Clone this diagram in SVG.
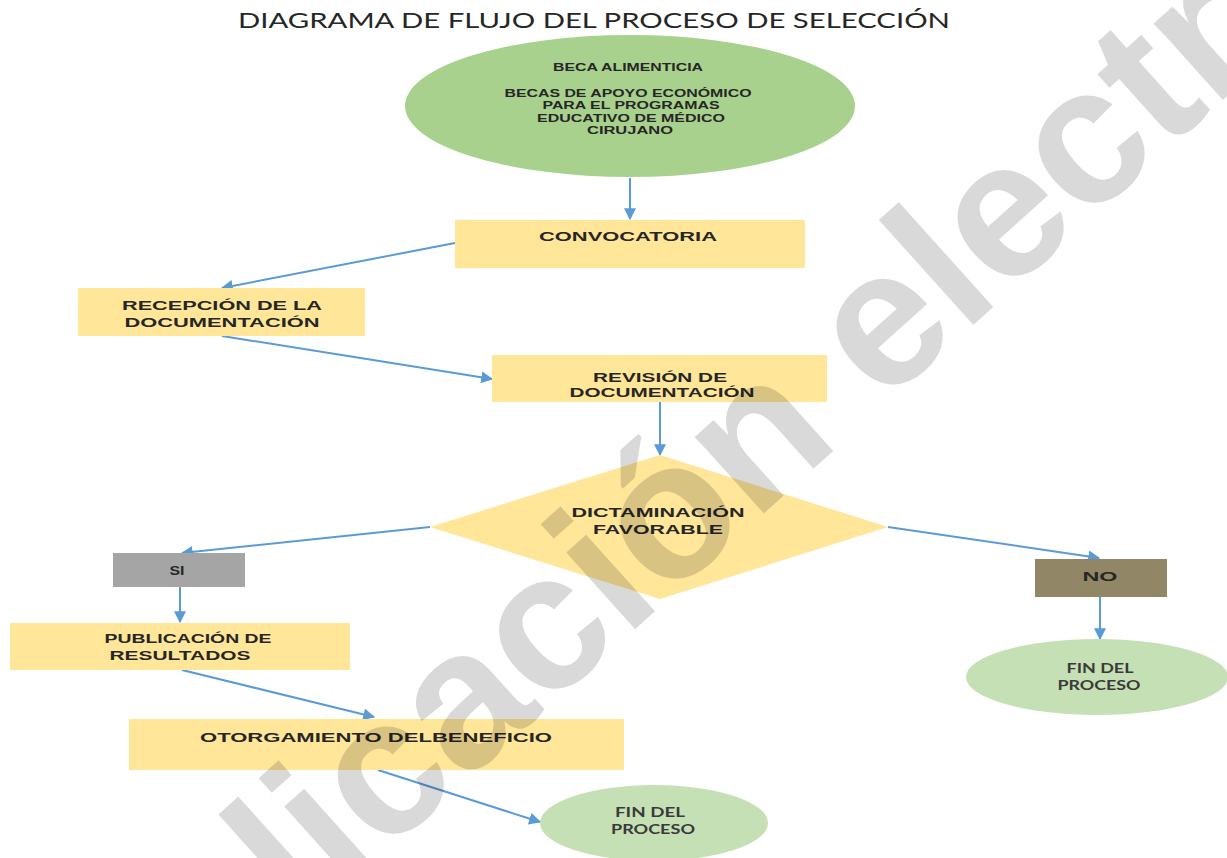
<svg xmlns="http://www.w3.org/2000/svg" width="1227" height="858" viewBox="0 0 1227 858">
<defs>
<marker id="ah" viewBox="0 0 10 10" refX="9" refY="5" markerWidth="12" markerHeight="12" markerUnits="userSpaceOnUse" orient="auto">
<path d="M0,0 L10,5 L0,10 z" fill="#5B9BD5"/>
</marker>
<style>
.box{fill:#FFE699}
.t{font-family:"Liberation Sans",Arial,sans-serif;font-weight:bold;fill:#262626;text-anchor:middle}
.f{font-family:Lato,"Open Sans",sans-serif;font-weight:bold;fill:#3a3a3a;text-anchor:middle;font-size:13px}
.c{fill:none;stroke:#5B9BD5;stroke-width:2;marker-end:url(#ah)}
.wm{font-family:"Liberation Sans",Arial,sans-serif;font-weight:bold;font-size:195px;fill:#000;fill-opacity:0.15}
</style>
</defs>
<rect width="1227" height="858" fill="#fff"/>
<text x="594" y="28" font-family="Lato,'Open Sans',sans-serif" font-size="22" fill="#262626" text-anchor="middle" textLength="712" lengthAdjust="spacingAndGlyphs">DIAGRAMA DE FLUJO DEL PROCESO DE SELECCIÓN</text>

<g id="connectors">
<line class="c" x1="630" y1="178" x2="630" y2="219"/>
<line class="c" x1="455" y1="243" x2="222" y2="288"/>
<line class="c" x1="222" y1="336" x2="492" y2="379"/>
<line class="c" x1="660" y1="402" x2="660" y2="455"/>
<line class="c" x1="430" y1="527" x2="182" y2="553"/>
<line class="c" x1="888" y1="527" x2="1099" y2="558"/>
<line class="c" x1="180" y1="587" x2="180" y2="622"/>
<line class="c" x1="1100" y1="597" x2="1100" y2="639"/>
<line class="c" x1="182" y1="670" x2="374" y2="717"/>
<line class="c" x1="378" y1="770" x2="540" y2="822"/>
</g>

<g id="inicio">
<ellipse cx="630" cy="106" rx="225" ry="71" fill="#A9D18E"/>
<text class="t" font-size="10" x="628" y="71" textLength="150" lengthAdjust="spacingAndGlyphs">BECA ALIMENTICIA</text>
<text class="t" font-size="10" x="628" y="97" textLength="247" lengthAdjust="spacingAndGlyphs">BECAS DE APOYO ECONÓMICO</text>
<text class="t" font-size="10" x="631" y="109" textLength="177" lengthAdjust="spacingAndGlyphs">PARA EL PROGRAMAS</text>
<text class="t" font-size="10" x="631" y="121.5" textLength="188" lengthAdjust="spacingAndGlyphs">EDUCATIVO DE MÉDICO</text>
<text class="t" font-size="10" x="630" y="134" textLength="86" lengthAdjust="spacingAndGlyphs">CIRUJANO</text>
</g>

<g id="convocatoria">
<rect class="box" x="455" y="220" width="350" height="48"/>
<text class="t" font-size="12.5" x="628" y="241" textLength="178" lengthAdjust="spacingAndGlyphs">CONVOCATORIA</text>
</g>

<g id="recepcion">
<rect class="box" x="78" y="288" width="287" height="48"/>
<text class="t" font-size="13" x="222" y="310" textLength="200" lengthAdjust="spacingAndGlyphs">RECEPCIÓN DE LA</text>
<text class="t" font-size="13" x="222" y="327" textLength="195" lengthAdjust="spacingAndGlyphs">DOCUMENTACIÓN</text>
</g>

<g id="revision">
<rect class="box" x="492" y="355" width="335" height="47"/>
<text class="t" font-size="13" x="660" y="381.5" textLength="134" lengthAdjust="spacingAndGlyphs">REVISIÓN DE</text>
<text class="t" font-size="13" x="662" y="396.5" textLength="185" lengthAdjust="spacingAndGlyphs">DOCUMENTACIÓN</text>
</g>

<g id="dictaminacion">
<polygon points="660,455 888,527 660,599 430,527" fill="#FFE699"/>
<text class="t" font-size="13" x="658" y="517" textLength="173" lengthAdjust="spacingAndGlyphs">DICTAMINACIÓN</text>
<text class="t" font-size="13" x="658" y="534" textLength="130" lengthAdjust="spacingAndGlyphs">FAVORABLE</text>
</g>

<g id="si">
<rect x="113" y="553" width="132" height="34" fill="#A5A5A5"/>
<text class="t" font-size="12" x="177" y="575" textLength="15" lengthAdjust="spacingAndGlyphs">SI</text>
</g>

<g id="no">
<rect x="1035" y="559" width="132" height="38" fill="#918766"/>
<text class="t" font-size="12.5" x="1100" y="581" textLength="35" lengthAdjust="spacingAndGlyphs">NO</text>
</g>

<g id="publicacion">
<rect class="box" x="10" y="623" width="340" height="47"/>
<text class="t" font-size="13" x="188" y="643" textLength="167" lengthAdjust="spacingAndGlyphs">PUBLICACIÓN DE</text>
<text class="t" font-size="13" x="180" y="660" textLength="141" lengthAdjust="spacingAndGlyphs">RESULTADOS</text>
</g>

<g id="otorgamiento">
<rect class="box" x="129" y="719" width="495" height="51"/>
<text class="t" font-size="13" x="376" y="742" textLength="352" lengthAdjust="spacingAndGlyphs">OTORGAMIENTO DELBENEFICIO</text>
</g>

<g id="fin-no">
<ellipse cx="1097" cy="677" rx="131" ry="38" fill="#C5E0B4"/>
<text class="f" x="1100" y="673" textLength="67" lengthAdjust="spacingAndGlyphs">FIN DEL</text>
<text class="f" x="1099" y="690" textLength="83" lengthAdjust="spacingAndGlyphs">PROCESO</text>
</g>

<g id="fin-si">
<ellipse cx="654" cy="823" rx="114" ry="38" fill="#C5E0B4"/>
<text class="f" x="650" y="817" textLength="70" lengthAdjust="spacingAndGlyphs">FIN DEL</text>
<text class="f" x="653" y="834" textLength="84" lengthAdjust="spacingAndGlyphs">PROCESO</text>
</g>

<text class="wm" transform="translate(29,1175) rotate(-42)">Publicación electrónica</text>
</svg>
